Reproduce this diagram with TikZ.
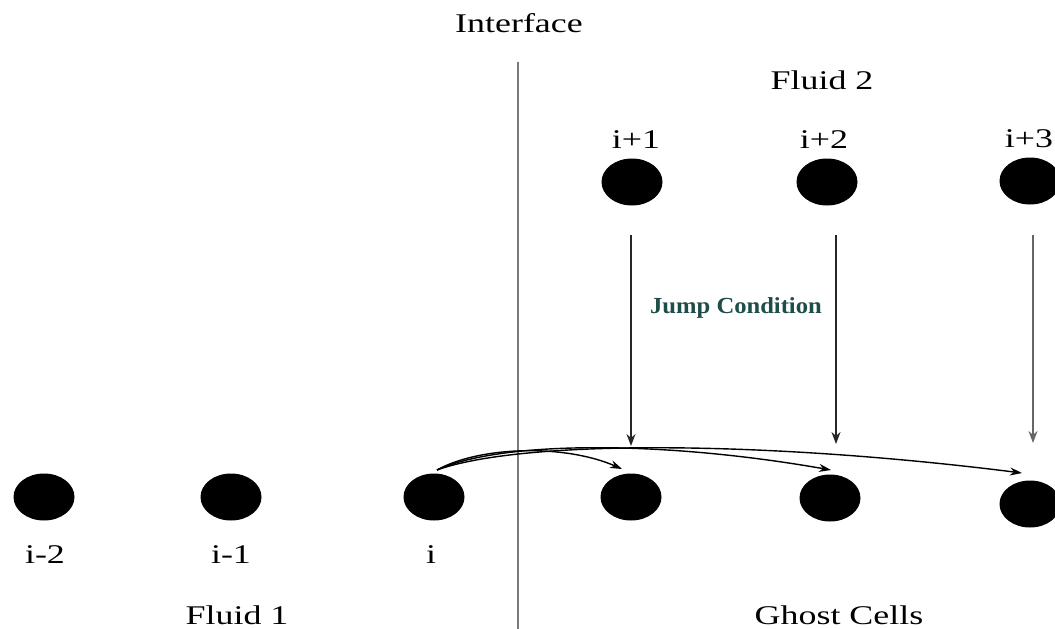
\documentclass[tikz,border=0pt]{standalone}
\usepackage{fontspec}
\setmainfont{Liberation Serif}
\usetikzlibrary{shapes.geometric,arrows.meta}
\definecolor{jumpcol}{HTML}{1F4D4A}
\definecolor{ifacecol}{HTML}{7A7A7A}
\newcommand\widetext[1]{\scalebox{1.33}[1]{#1}}
\begin{document}
\begin{tikzpicture}[x=1pt,y=-1pt,
  lbl/.style={font=\fontsize{27}{30}\selectfont, inner sep=0pt, anchor=base},
  cell/.style={ellipse, fill=black, minimum width=61pt, minimum height=47pt, inner sep=0pt},
  varr/.style={-{Stealth[length=12pt,width=9pt]}, line width=1.3pt, draw=black!85},
  carr/.style={-{Stealth[length=12pt,width=8pt]}, line width=1.4pt, draw=black}]
\useasboundingbox (0,0) rectangle (1055,629);
\clip (0,0) rectangle (1055,629);

% interface line
\coordinate (ifTop) at (518,62);
\coordinate (ifBot) at (518,629);
\draw[ifacecol, line width=2.4pt] (ifTop) -- (ifBot);

% titles
\node[lbl] (tIface) at (519,32) {\widetext{Interface}};
\node[lbl] (tF2) at (822,89) {\widetext{Fluid 2}};
\node[lbl] (tF1) at (237,624) {\widetext{Fluid 1}};
\node[lbl] (tGC) at (839,624) {\widetext{Ghost Cells}};

% top cells
\node[cell] (t1) at (632,182) {};
\node[cell] (t2) at (827,182) {};
\node[cell] (t3) at (1030,181) {};
\node[lbl] (lt1) at (636,148) {\widetext{i+1}};
\node[lbl] (lt2) at (824,148) {\widetext{i+2}};
\node[lbl] (lt3) at (1029,147) {\widetext{i+3}};

% bottom cells
\node[cell] (b0) at (44,497) {};
\node[cell] (b1) at (231,497) {};
\node[cell] (b2) at (434,497) {};
\node[cell] (b3) at (631,497) {};
\node[cell] (b4) at (830,498) {};
\node[cell] (b5) at (1030,504) {};
\node[lbl] (lb0) at (45,563) {\widetext{i-2}};
\node[lbl] (lb1) at (231,563) {\widetext{i-1}};
\node[lbl] (lb2) at (431,563) {\widetext{i}};

% jump condition label
\node[font=\fontsize{23}{26}\selectfont\bfseries, text=jumpcol, inner sep=0pt] (jump) at (736,308) {\scalebox{1.07}[1]{Jump Condition}};

% vertical arrows
\coordinate (v1s) at (631,235); \coordinate (v1e) at (631,446);
\coordinate (v2s) at (836,235); \coordinate (v2e) at (836,444);
\coordinate (v3s) at (1033,235); \coordinate (v3e) at (1033,443);
\draw[varr] (v1s) -- (v1e);
\draw[varr] (v2s) -- (v2e);
\draw[varr, draw=black!60] (v3s) -- (v3e);

% curved arrows from cell i
\coordinate (cs) at (437,470);
\coordinate (ce1) at (622,469);
\coordinate (ce2) at (831,470);
\coordinate (ce3) at (1022,473);
\draw[carr] (cs) .. controls (480,446) and (565,444) .. (ce1);
\draw[carr] (cs) .. controls (500,441) and (660,440) .. (ce2);
\draw[carr] (cs) .. controls (520,440) and (760,440) .. (ce3);
\end{tikzpicture}
\end{document}
